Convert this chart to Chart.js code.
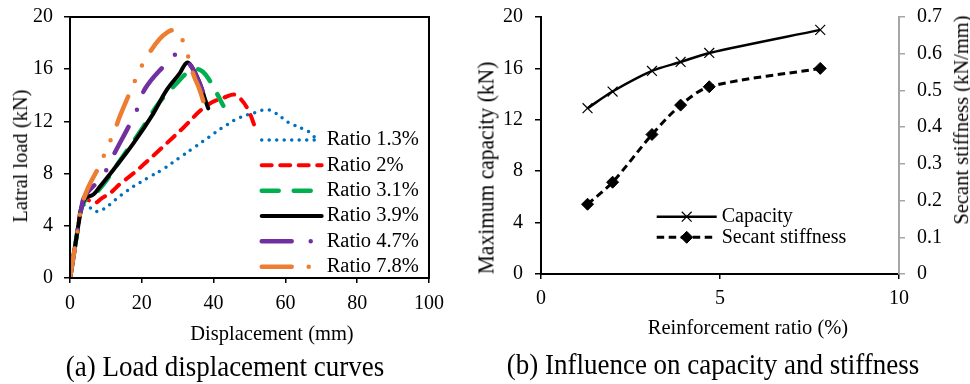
<!DOCTYPE html>
<html>
<head>
<meta charset="utf-8">
<script src="https://cdn.jsdelivr.net/npm/chart.js@4/dist/chart.umd.min.js"></script>
<style>
  body { margin: 0; background: #fff; width: 970px; height: 384px; position: relative; overflow: hidden;
         font-family: "Liberation Serif", "Times New Roman", serif; }
  canvas { position: absolute; top: 0; }
  .t { position: absolute; white-space: nowrap; line-height: 1; font-size: 20.5px; color: #000;
       transform: translate(-50%, -50%) scaleY(1.06); }
  .v { transform: translate(-50%, -50%) rotate(-90deg) scaleY(1.06); }
  .cap { font-size: 27px; }
</style>
</head>
<body>
<canvas id="loadChart" width="470" height="345" style="left:0"></canvas>
<canvas id="ratioChart" width="500" height="345" style="left:470px"></canvas>

<div class="t v" style="left:20px;top:156px">Latral load (kN)</div>
<div class="t" style="left:272px;top:333px">Displacement (mm)</div>
<div class="t cap" style="left:225px;top:367px">(a) Load displacement curves</div>

<div class="t v" style="left:487px;top:168px;font-size:21.5px">Maximum capacity (kN)</div>
<div class="t v" style="left:961px;top:120px">Secant stiffness (kN/mm)</div>
<div class="t" style="left:748px;top:327px">Reinforcement ratio (%)</div>
<div class="t cap" style="left:713px;top:365px">(b) Influence on capacity and stiffness</div>

<script>
const SERIF = '"Liberation Serif", "Times New Roman", serif';

// (a) load-displacement curves
const ratioLabels = ["Ratio 1.3%", "Ratio 2%", "Ratio 3.1%", "Ratio 3.9%", "Ratio 4.7%", "Ratio 7.8%"];

const disp13 = [0, 1.4, 2.3, 3.2, 4.6, 7, 9.5, 11.6, 13.5, 15.5, 17.6, 21.9, 26.3, 30.4, 34.6, 38.7, 42.9, 47.3, 51.9, 54.5, 56.9, 61, 65.1, 67.5, 68.8];
const load13 = [0, 2.4, 4, 5.4, 5.6, 5.1, 5.3, 5.75, 6.2, 6.6, 7, 7.7, 8.4, 9.2, 10, 10.8, 11.6, 12.3, 12.7, 12.9, 12.7, 11.9, 11.4, 11, 10.4];

const disp20 = [0, 1.4, 2.3, 3.2, 4.4, 6.9, 8.8, 11.6, 13.9, 17.6, 24.1, 31.5, 38, 43.6, 45.9, 47.3, 49.6, 52];
const load20 = [0, 2.4, 4, 5.4, 6.0, 5.75, 6.1, 6.6, 7.2, 8.0, 9.6, 11.5, 13.2, 13.9, 14.05, 13.8, 12.9, 11.2];

const disp31 = [0, 1.4, 2.3, 3.2, 4.3, 6.5, 7.5, 10.2, 14.4, 19.5, 25, 30, 33, 35.5, 37, 38.5, 40.8, 42.7];
const load31 = [0, 2.4, 4, 5.4, 6.0, 6.5, 6.6, 7.5, 9.2, 11.2, 13.5, 15.0, 15.8, 16.0, 15.8, 15.3, 14.2, 13.2];

const disp39 = [0, 1.4, 2.3, 3.2, 4.2, 6.5, 8.3, 12.1, 17.6, 23.2, 26.9, 30.6, 32.5, 33.9, 36.2, 37.6, 38.5];
const load39 = [0, 2.4, 4, 5.4, 6.1, 6.4, 7.0, 8.3, 10.3, 12.6, 14.4, 15.7, 16.5, 16.2, 14.9, 13.7, 13.0];

const disp47 = [0, 1.4, 2.3, 3.2, 3.8, 5, 7.4, 10.2, 12.1, 16.7, 18.8, 20.9, 26, 29.7, 32.9, 35, 37.1];
const load47 = [0, 2.4, 4, 5.4, 6.1, 6.6, 7.3, 8.3, 9.4, 11.8, 13.0, 14.5, 16.2, 17.15, 16.5, 15.6, 14.2];

const disp78 = [0, 1.4, 2.3, 3.2, 5, 8.4, 10.2, 12.3, 13.9, 17.6, 19.5, 22.1, 24.9, 27, 28.8, 30.5, 31.5, 33, 34.5, 36, 38];
const load78 = [0, 2.4, 4, 5.4, 6.9, 8.7, 9.9, 11.2, 12.4, 14.8, 16.0, 17.25, 18.3, 18.8, 19.0, 18.8, 18.1, 16.9, 15.5, 14.5, 12.8];

const dispTicks = [0, 20, 40, 60, 80, 100];
const loadTicks = [0, 4, 8, 12, 16, 20];

// (b) capacity and secant stiffness vs. reinforcement ratio
const reinfRatio = [1.3, 2, 3.1, 3.9, 4.7, 7.8];
const capacity = [12.9, 14.2, 15.8, 16.5, 17.2, 19.0];
const stiffness = [0.19, 0.25, 0.38, 0.46, 0.51, 0.56];
const ratioTicks = [0, 5, 10];
const capTicks = [0, 4, 8, 12, 16, 20];
const stiffTicks = [0, 0.1, 0.2, 0.3, 0.4, 0.5, 0.6, 0.7];

function pts(xs, ys) {
  return xs.map((x, i) => ({ x: x, y: ys[i] }));
}
function setTicks(values) {
  return scale => { scale.ticks = values.map(v => ({ value: v })); };
}

// legend drawn inside the plot, next to the curves
const inlineLegend = {
  id: "inlineLegend",
  afterDatasetsDraw(chart, args, opts) {
    const ctx = chart.ctx;
    ctx.save();
    chart.data.datasets.forEach((ds, i) => {
      const y = opts.top + i * opts.rowGap;
      ctx.strokeStyle = ds.borderColor;
      ctx.lineWidth = ds.borderWidth;
      ctx.lineCap = ds.borderCapStyle || "butt";
      ctx.setLineDash(ds.borderDash || []);
      ctx.beginPath();
      ctx.moveTo(opts.left, y);
      ctx.lineTo(opts.left + opts.lineLen, y);
      ctx.stroke();
      if (ds.pointRadius) {
        ctx.setLineDash([]);
        ctx.fillStyle = ds.pointBackgroundColor;
        ctx.strokeStyle = ds.pointBorderColor;
        ctx.lineWidth = ds.pointBorderWidth;
        Chart.helpers.drawPoint(ctx, { pointStyle: ds.pointStyle, rotation: 0, radius: ds.pointRadius, borderWidth: ds.pointBorderWidth },
          opts.left + opts.lineLen / 2, y);
      }
      ctx.fillStyle = "#000";
      ctx.font = opts.font;
      ctx.textBaseline = "middle";
      ctx.fillText(ds.label, opts.left + opts.lineLen + opts.gap, y);
    });
    ctx.restore();
  }
};

const frame = {
  id: "frame",
  afterDraw(chart) {
    const { left, top, right, bottom } = chart.chartArea;
    const ctx = chart.ctx;
    ctx.save();
    ctx.strokeStyle = "#000";
    ctx.lineWidth = 2;
    ctx.strokeRect(left, top, right - left, bottom - top);
    ctx.restore();
  }
};

function axis(extra) {
  return Object.assign({
    type: "linear",
    border: { display: true, color: "#000", width: 2 },
    grid: { drawOnChartArea: false, drawTicks: true, tickLength: 6, color: "#000", lineWidth: 1.5 },
    ticks: { color: "#000", font: { family: SERIF, size: 20 }, padding: 11, callback: v => String(v) }
  }, extra);
}

// ---- chart (a)
const styles = [
  { color: "#0070C0", width: 3.5, dash: [0, 7.5] },
  { color: "#FF0000", width: 4, dash: [10, 8.5] },
  { color: "#00B050", width: 4.5, dash: [17, 15] },
  { color: "#000000", width: 4, dash: [] },
  { color: "#7030A0", width: 4.5, dash: [30, 19, 0, 19] },
  { color: "#ED7D31", width: 4.5, dash: [30, 17, 0, 17, 0, 17] }
];
const series = [pts(disp13, load13), pts(disp20, load20), pts(disp31, load31),
                pts(disp39, load39), pts(disp47, load47), pts(disp78, load78)];

new Chart(document.getElementById("loadChart"), {
  type: "line",
  data: {
    datasets: series.map((data, i) => ({
      label: ratioLabels[i],
      data: data,
      borderColor: styles[i].color,
      borderWidth: styles[i].width,
      borderDash: styles[i].dash,
      borderCapStyle: "round",
      borderJoinStyle: "round",
      pointRadius: 0,
      tension: 0.4,
      fill: false,
      order: series.length - i
    }))
  },
  options: {
    responsive: false,
    animation: false,
    layout: { padding: { left: 0, top: 17, right: 41, bottom: 0 } },
    plugins: {
      legend: { display: false },
      tooltip: { enabled: false },
      inlineLegend: { left: 261.7, top: 140, rowGap: 25.33, lineLen: 60, gap: 5, font: "20.5px " + SERIF }
    },
    scales: {
      x: axis({
        position: "bottom", min: 0, max: 100,
        grid: { drawOnChartArea: false, tickLength: 5, color: "#000", lineWidth: 1.5 },
        ticks: { color: "#000", font: { family: SERIF, size: 20 }, padding: 9, maxRotation: 0, callback: v => String(v) },
        afterBuildTicks: setTicks(dispTicks),
        afterFit: s => { s.height = 67; s.paddingLeft = 0; s.paddingRight = 0; }
      }),
      y: axis({
        position: "left", min: 0, max: 20,
        afterBuildTicks: setTicks(loadTicks),
        afterFit: s => { s.width = 70; s.paddingTop = 0; s.paddingBottom = 0; }
      })
    }
  },
  plugins: [inlineLegend, frame]
});

// ---- chart (b)
new Chart(document.getElementById("ratioChart"), {
  type: "line",
  data: {
    datasets: [
      {
        label: "Capacity",
        data: pts(reinfRatio, capacity),
        yAxisID: "y",
        borderColor: "#000",
        borderWidth: 2.5,
        borderDash: [],
        tension: 0.3,
        pointStyle: "crossRot",
        pointRadius: 7,
        pointBorderWidth: 1.2,
        pointBorderColor: "#000",
        pointBackgroundColor: "#000"
      },
      {
        label: "Secant stiffness",
        data: pts(reinfRatio, stiffness),
        yAxisID: "y1",
        borderColor: "#000",
        borderWidth: 3,
        borderDash: [7.5, 4.5],
        tension: 0.3,
        pointStyle: "rectRot",
        pointRadius: 6,
        pointBorderWidth: 1,
        pointBorderColor: "#000",
        pointBackgroundColor: "#000"
      }
    ]
  },
  options: {
    responsive: false,
    animation: false,
    layout: { padding: { left: 0, top: 17, right: 0, bottom: 0 } },
    plugins: {
      legend: { display: false },
      tooltip: { enabled: false },
      inlineLegend: { left: 186.7, top: 216.7, rowGap: 20.6, lineLen: 60, gap: 5, font: "20px " + SERIF }
    },
    scales: {
      x: axis({
        position: "bottom", min: 0, max: 10,
        grid: { drawOnChartArea: false, tickLength: 5, color: "#000", lineWidth: 1.5 },
        ticks: { color: "#000", font: { family: SERIF, size: 20 }, padding: 8, maxRotation: 0, callback: v => String(v) },
        afterBuildTicks: setTicks(ratioTicks),
        afterFit: s => { s.height = 71; s.paddingLeft = 0; s.paddingRight = 0; }
      }),
      y: axis({
        position: "left", min: 0, max: 20,
        ticks: { color: "#000", font: { family: SERIF, size: 20 }, padding: 12, callback: v => String(v) },
        afterBuildTicks: setTicks(capTicks),
        afterFit: s => { s.width = 71; s.paddingTop = 0; s.paddingBottom = 0; }
      }),
      y1: axis({
        position: "right", min: 0, max: 0.7,
        border: { display: true, color: "#A6A6A6", width: 2 },
        grid: { drawOnChartArea: false, tickLength: 6, color: "#A6A6A6", lineWidth: 1.5 },
        ticks: { color: "#000", font: { family: SERIF, size: 20 }, padding: 12, callback: v => String(v) },
        afterBuildTicks: setTicks(stiffTicks),
        afterFit: s => { s.width = 71; s.paddingTop = 0; s.paddingBottom = 0; }
      })
    }
  },
  plugins: [inlineLegend]
});
</script>
</body>
</html>
